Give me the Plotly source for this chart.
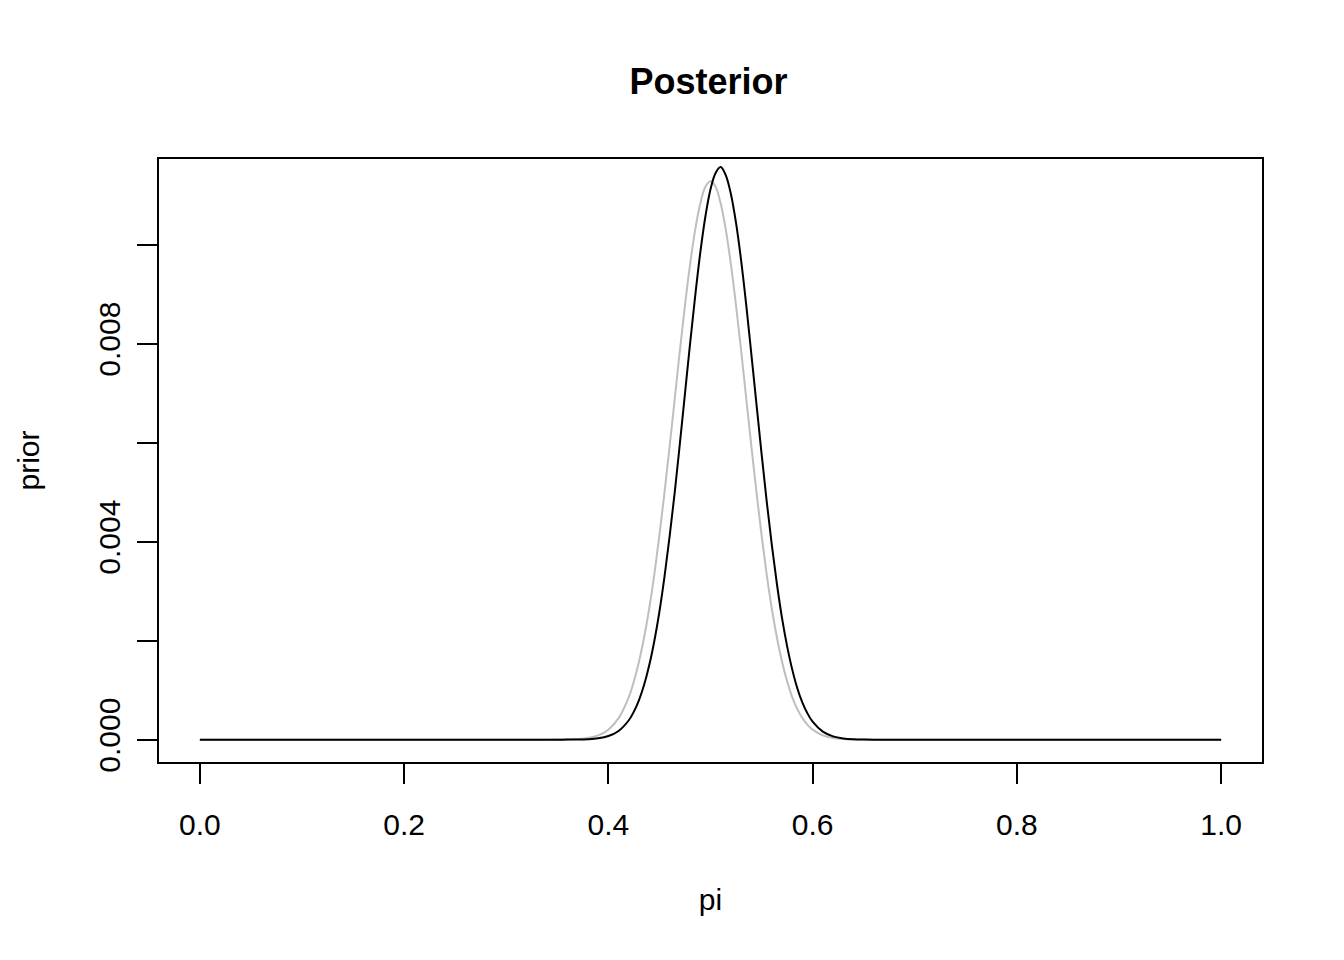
import plotly.graph_objects as go

# grid of pi values
pi_vals = [0.00, 0.10, 0.20, 0.30, 0.34, 0.35, 0.36, 0.37, 0.38, 0.39, 0.40, 0.41, 0.42,
           0.425, 0.43, 0.435, 0.44, 0.445, 0.45, 0.455, 0.46, 0.465, 0.47, 0.475,
           0.48, 0.485, 0.49, 0.495, 0.50, 0.505, 0.51, 0.515, 0.52, 0.525,
           0.53, 0.535, 0.54, 0.545, 0.55, 0.555, 0.56, 0.565, 0.57, 0.575,
           0.58, 0.585, 0.59, 0.595,
           0.60, 0.61, 0.62, 0.63, 0.64, 0.65, 0.66, 0.70, 0.80, 0.90, 1.00]

prior_vals = [0.0, 0.0, 0.0, 0.0, 0.0004e-3, 0.0013e-3, 0.0043e-3, 0.0127e-3, 0.0345e-3, 0.0871e-3, 0.202e-3, 0.435e-3, 0.861e-3,
              1.18e-3, 1.58e-3, 2.07e-3, 2.65e-3, 3.34e-3, 4.13e-3, 5.00e-3, 5.93e-3, 6.89e-3, 7.86e-3, 8.77e-3,
              9.60e-3, 10.30e-3, 10.83e-3, 11.17e-3, 11.28e-3, 11.17e-3, 10.83e-3, 10.30e-3, 9.60e-3, 8.77e-3,
              7.86e-3, 6.89e-3, 5.93e-3, 5.00e-3, 4.13e-3, 3.34e-3, 2.65e-3, 2.07e-3, 1.58e-3, 1.18e-3,
              0.861e-3, 0.618e-3, 0.435e-3, 0.300e-3,
              0.202e-3, 0.0871e-3, 0.0345e-3, 0.0127e-3, 0.0043e-3, 0.0013e-3, 0.0004e-3, 0.0, 0.0, 0.0, 0.0]

posterior_vals = [0.0, 0.0, 0.0, 0.0, 0.00007e-3, 0.00025e-3, 0.00092e-3, 0.0031e-3, 0.0097e-3, 0.0277e-3, 0.0731e-3, 0.176e-3, 0.392e-3,
                  0.567e-3, 0.800e-3, 1.108e-3, 1.502e-3, 1.994e-3, 2.59e-3, 3.30e-3, 4.11e-3, 5.00e-3, 5.98e-3, 6.99e-3,
                  8.00e-3, 8.96e-3, 9.84e-3, 10.57e-3, 11.12e-3, 11.45e-3, 11.57e-3, 11.40e-3, 11.02e-3, 10.44e-3,
                  9.68e-3, 8.78e-3, 7.79e-3, 6.78e-3, 5.78e-3, 4.82e-3, 3.94e-3, 3.15e-3, 2.46e-3, 1.89e-3,
                  1.42e-3, 1.04e-3, 0.748e-3, 0.527e-3,
                  0.364e-3, 0.162e-3, 0.0667e-3, 0.0251e-3, 0.0087e-3, 0.0028e-3, 0.0008e-3, 0.0, 0.0, 0.0, 0.0]

x_ticks = [0.0, 0.2, 0.4, 0.6, 0.8, 1.0]
x_tick_text = ["0.0", "0.2", "0.4", "0.6", "0.8", "1.0"]
y_ticks = [0.000, 0.002, 0.004, 0.006, 0.008, 0.010]
y_tick_text = ["0.000", "", "0.004", "", "0.008", ""]

FONT = "Liberation Sans, Arial, Helvetica, sans-serif"

fig = go.Figure()
fig.add_trace(go.Scatter(x=pi_vals, y=prior_vals, mode="lines",
                         line=dict(color="#BEBEBE", width=2, shape="spline", smoothing=1.0),
                         showlegend=False, hoverinfo="skip"))
fig.add_trace(go.Scatter(x=pi_vals, y=posterior_vals, mode="lines",
                         line=dict(color="#000000", width=2, shape="spline", smoothing=1.0),
                         showlegend=False, hoverinfo="skip"))

ymax = max(prior_vals)
fig.update_layout(
    width=1344, height=960,
    paper_bgcolor="white", plot_bgcolor="white",
    margin=dict(l=151, r=90, t=151, b=206),
    font=dict(family=FONT, color="black", size=30),
    title=dict(text="<b>Posterior</b>", x=(149 + 1103 / 2) / 1344, xref="container", xanchor="center",
               y=1 - 73 / 960, yref="container", yanchor="middle",
               font=dict(size=36, family=FONT, color="black")),
    xaxis=dict(range=[-0.04, 1.04], tickvals=x_ticks, ticktext=x_tick_text,
               showgrid=False, zeroline=False, showline=True, mirror=True,
               linecolor="black", linewidth=2, ticks="outside", ticklen=20, tickwidth=2,
               tickcolor="black", tickfont=dict(size=30), ticklabelstandoff=15,
               title=dict(text="pi", font=dict(size=30), standoff=49)),
    yaxis=dict(range=[-0.04 * ymax, 1.04 * ymax], tickvals=y_ticks, ticktext=y_tick_text,
               showgrid=False, zeroline=False, showline=True, mirror=True,
               linecolor="black", linewidth=2, ticks="outside", ticklen=20, tickwidth=2,
               tickcolor="black", tickangle=-90, tickfont=dict(size=30), ticklabelstandoff=5,
               title=dict(text="prior", font=dict(size=30), standoff=45)),
)

fig.write_html("out.html")
